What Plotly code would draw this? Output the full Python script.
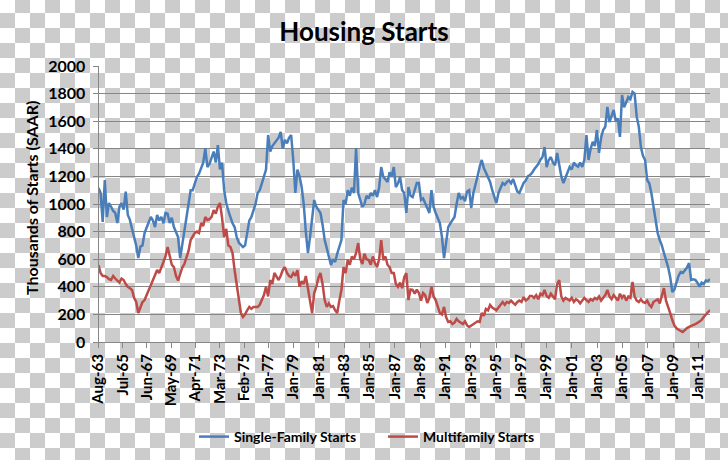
import pandas as pd
import plotly.graph_objects as go

# bi-monthly readings (thousands, SAAR), Aug-63 .. Dec-11
single_family = [
    1116, 1080, 870,                        # 1963
    1174, 906, 1007, 980, 950, 935,         # 1964
    862, 980, 1007, 960, 1090, 920,         # 1965
    885, 820, 760, 700, 608, 690,           # 1966
    700, 790, 830, 862, 906, 880,           # 1967
    833, 920, 880, 906, 860, 935,           # 1968
    930, 862, 900, 833, 800, 760,           # 1969
    608, 700, 800, 880, 1000, 1100,         # 1970
    1100, 1150, 1196, 1220, 1260, 1300,     # 1971
    1405, 1268, 1290, 1330, 1380, 1300,     # 1972
    1427, 1250, 1300, 1100, 1007, 950,      # 1973
    900, 860, 833, 760, 720, 700,           # 1974
    688, 700, 780, 880, 906, 960,           # 1975
    1000, 1080, 1100, 1150, 1196, 1250,     # 1976
    1500, 1380, 1420, 1440, 1460, 1480,     # 1977
    1522, 1400, 1465, 1440, 1480, 1500,     # 1978
    1319, 1080, 1250, 1200, 1123, 1000,     # 1979
    800, 645, 760, 900, 1029, 980,          # 1980
    960, 935, 850, 739, 680, 620,           # 1981
    558, 600, 580, 640, 700, 739,           # 1982
    1029, 1000, 1100, 1060, 1120, 1080,     # 1983
    1405, 1080, 1029, 980, 1000, 1060,      # 1984
    1040, 1080, 1060, 1100, 1050, 1120,     # 1985
    1268, 1196, 1180, 1160, 1230, 1200,     # 1986
    1268, 1123, 1150, 1196, 1100, 1080,     # 1987
    935, 1123, 1060, 1050, 1100, 1152,      # 1988
    1152, 1029, 1040, 1007, 980, 935,       # 1989
    1100, 980, 935, 900, 862, 760,          # 1990
    608, 720, 833, 860, 880, 906,           # 1991
    1000, 1080, 1040, 1050, 1020, 1090,     # 1992
    1100, 971, 1080, 1152, 1200, 1270,      # 1993
    1319, 1260, 1225, 1190, 1160, 1100,     # 1994
    1050, 1007, 1080, 1120, 1152, 1140,     # 1995
    1160, 1170, 1150, 1180, 1140, 1090,     # 1996
    1080, 1120, 1152, 1170, 1200, 1210,     # 1997
    1225, 1250, 1268, 1290, 1319, 1340,     # 1998
    1413, 1268, 1319, 1340, 1300, 1280,     # 1999
    1370, 1268, 1200, 1152, 1190, 1230,     # 2000
    1268, 1250, 1300, 1280, 1270, 1300,     # 2001
    1268, 1320, 1500, 1319, 1400, 1450,     # 2002
    1420, 1536, 1370, 1480, 1536, 1560,     # 2003
    1703, 1594, 1640, 1681, 1600, 1620,     # 2004
    1486, 1790, 1700, 1740, 1775, 1760,     # 2005
    1812, 1800, 1633, 1560, 1413, 1350,     # 2006
    1319, 1174, 1150, 1080, 978, 900,       # 2007
    790, 739, 700, 645, 600, 543,           # 2008
    470, 362, 380, 440, 480, 507,           # 2009
    500, 520, 540, 572, 449, 455,           # 2010
    450, 430, 400, 430, 420, 445,           # 2011
    440, 456,
]

multifamily = [
    558, 500, 478,
    478, 470, 455, 449, 478, 460,
    445, 430, 460, 449, 420, 400,
    390, 377, 320, 290, 210, 254,
    290, 304, 340, 377, 420, 449,
    480, 522, 500, 543, 580, 620,
    688, 616, 560, 543, 480, 445,
    500, 540, 565, 620, 660, 739,
    760, 790, 800, 790, 862, 840,
    906, 884, 890, 906, 956, 930,
    980, 1007, 900, 760, 820, 700,
    688, 645, 520, 420, 290, 210,
    181, 200, 230, 254, 240, 254,
    254, 254, 270, 300, 340, 400,
    330, 449, 420, 500, 470, 449,
    480, 522, 543, 500, 478, 471,
    500, 480, 520, 400, 440, 420,
    478, 380, 300, 210, 355, 400,
    464, 500, 420, 304, 254, 280,
    254, 260, 230, 210, 300, 377,
    543, 500, 594, 560, 620, 600,
    645, 717, 600, 565, 640, 600,
    594, 560, 620, 572, 543, 600,
    739, 594, 620, 560, 543, 500,
    500, 420, 400, 430, 390, 470,
    500, 304, 380, 377, 350, 380,
    355, 300, 355, 340, 283, 320,
    400, 330, 304, 260, 210, 200,
    254, 180, 145, 150, 130, 140,
    167, 150, 140, 130, 150, 120,
    109, 120, 130, 140, 150, 145,
    210, 190, 240, 230, 268, 250,
    240, 230, 250, 270, 290, 270,
    290, 283, 300, 283, 270, 290,
    300, 290, 326, 300, 310, 333,
    333, 320, 340, 310, 350, 340,
    377, 333, 320, 350, 330, 310,
    420, 449, 330, 300, 320, 310,
    300, 320, 290, 310, 300, 280,
    300, 320, 304, 290, 310, 300,
    320, 310, 330, 300, 320, 340,
    377, 330, 310, 340, 320, 300,
    350, 320, 340, 300, 330, 320,
    435, 330, 300, 290, 310, 290,
    283, 300, 270, 254, 290, 300,
    310, 280, 330, 390, 300, 260,
    210, 159, 120, 100, 87, 80,
    72, 90, 101, 110, 115, 120,
    130, 138, 150, 160, 181, 200,
    215, 232,
]

tick_dates = ['1963-08-01', '1965-07-01', '1967-06-01', '1969-05-01',
              '1971-04-01', '1973-03-01', '1975-02-01', '1977-01-01',
              '1979-01-01', '1981-01-01', '1983-01-01', '1985-01-01',
              '1987-01-01', '1989-01-01', '1991-01-01', '1993-01-01',
              '1995-01-01', '1997-01-01', '1999-01-01', '2001-01-01',
              '2003-01-01', '2005-01-01', '2007-01-01', '2009-01-01',
              '2011-01-01']
tick_labels = [pd.Timestamp(d).strftime('%b-%y') for d in tick_dates]

dates = pd.date_range('1963-08-01', '2011-12-01', periods=len(single_family))

W, H = 728, 460
FONT = 'Lato'
axis_grey = '#868686'

fig = go.Figure()

# checker backdrop (the "transparent png" look)
board = [[(r + c) % 2 for c in range(49)] for r in range(32)]
fig.add_trace(go.Heatmap(z=board, x0=7.5, dx=15, y0=5.5, dy=15,
                         colorscale=[[0, '#ffffff'], [1, '#cccccc']],
                         zmin=0, zmax=1, showscale=False, hoverinfo='skip',
                         xaxis='x', yaxis='y'))

fig.add_trace(go.Scatter(x=dates, y=single_family, name='Single-Family Starts',
                         mode='lines', line=dict(color='#4a7ebb', width=2.5),
                         xaxis='x2', yaxis='y2'))
fig.add_trace(go.Scatter(x=dates, y=multifamily, name='Multifamily Starts',
                         mode='lines', line=dict(color='#be4b48', width=2.5),
                         xaxis='x2', yaxis='y2'))

fig.update_layout(
    width=W, height=H, autosize=False,
    margin=dict(l=0, r=0, t=0, b=0, pad=0),
    paper_bgcolor='white', plot_bgcolor='rgba(0,0,0,0)',
    font=dict(family=FONT, color='black'),
    title=dict(text='Housing Starts', x=0.5, xanchor='center',
               y=1 - 32 / H, yanchor='middle',
               font=dict(family=FONT, size=26, weight='bold')),
    xaxis=dict(domain=[0, 1], range=[0, W], visible=False, fixedrange=True,
               automargin=False),
    yaxis=dict(domain=[0, 1], range=[H, 0], visible=False, fixedrange=True,
               automargin=False),
    xaxis2=dict(domain=[98.5 / W, 710 / W], anchor='y2', type='date',
                range=[dates[0], dates[-1]], automargin=False,
                tickvals=tick_dates, ticktext=tick_labels, tickangle=-90,
                showgrid=False, showline=True, linecolor=axis_grey,
                ticks='outside', ticklen=5, tickcolor=axis_grey,
                tickfont=dict(family=FONT, size=15, weight='bold')),
    yaxis2=dict(domain=[(H - 342) / H, (H - 66) / H], anchor='x2',
                range=[0, 2000], tickvals=list(range(0, 2001, 200)),
                automargin=False, ticklabelstandoff=4,
                showgrid=True, gridcolor=axis_grey, gridwidth=1,
                zeroline=False, showline=True, linecolor=axis_grey,
                ticks='outside', ticklen=5, tickcolor=axis_grey,
                tickfont=dict(family=FONT, size=16, weight='bold')),
    legend=dict(orientation='h', x=194 / W, xanchor='left', y=(H - 437) / H,
                yanchor='middle', bgcolor='rgba(0,0,0,0)',
                entrywidth=144, entrywidthmode='pixels',
                font=dict(family=FONT, size=14, weight='bold')),
    annotations=[dict(text='Thousands of Starts (SAAR)', textangle=-90,
                      x=32 / W, y=(H - 198) / H, xref='paper', yref='paper',
                      xanchor='center', yanchor='middle', showarrow=False,
                      font=dict(family=FONT, size=16, weight='bold'))],
)

fig.write_html('out.html', config={'displayModeBar': False},
               post_script="document.body.style.margin='0';"
                           "document.body.style.overflow='hidden';")
